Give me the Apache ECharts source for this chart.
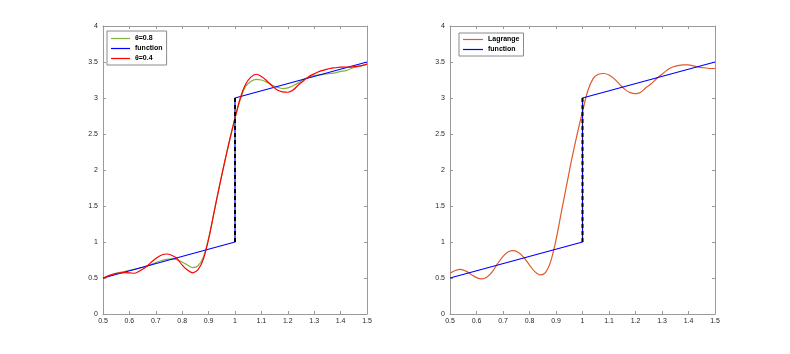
<!DOCTYPE html>
<html>
<head>
<meta charset="utf-8">
<script src="https://cdn.jsdelivr.net/npm/echarts@6/dist/echarts.min.js"></script>
<style>
html,body{margin:0;padding:0;background:#fff;}
#main{width:790px;height:354px;}
</style>
</head>
<body>
<div id="main"></div>
<script>
// sample positions
var xs = [0.50,0.52,0.54,0.56,0.58,0.60,0.62,0.64,0.66,0.68,0.70,0.72,0.74,0.76,0.78,0.80,0.82,0.84,0.86,0.88,0.90,0.92,0.94,0.96,0.98,1.00,1.02,1.04,1.06,1.08,1.10,1.12,1.14,1.16,1.18,1.20,1.22,1.24,1.26,1.28,1.30,1.32,1.34,1.36,1.38,1.40,1.42,1.44,1.46,1.48,1.50];
// left panel: theta = 0.8 (green)
var theta08 = [0.495,0.53,0.556,0.575,0.59,0.605,0.62,0.64,0.66,0.683,0.715,0.74,0.758,0.765,0.755,0.72,0.68,0.645,0.67,0.79,1.05,1.40,1.76,2.10,2.42,2.72,2.98,3.16,3.23,3.26,3.25,3.22,3.18,3.15,3.13,3.14,3.17,3.21,3.26,3.29,3.31,3.32,3.33,3.34,3.35,3.37,3.38,3.41,3.43,3.45,3.47];
// left panel: theta = 0.4 (red)
var theta04 = [0.495,0.53,0.556,0.568,0.574,0.572,0.566,0.60,0.645,0.71,0.77,0.815,0.833,0.815,0.77,0.68,0.61,0.572,0.615,0.76,1.04,1.40,1.76,2.10,2.42,2.72,3.00,3.19,3.29,3.33,3.30,3.24,3.17,3.11,3.085,3.08,3.11,3.18,3.24,3.30,3.335,3.37,3.39,3.41,3.42,3.43,3.43,3.43,3.44,3.45,3.47];
// right panel: Lagrange (orange)
var lagrange = [0.565,0.605,0.62,0.595,0.55,0.505,0.487,0.515,0.59,0.70,0.80,0.865,0.88,0.85,0.78,0.68,0.588,0.543,0.575,0.73,1.03,1.41,1.79,2.16,2.50,2.81,3.10,3.27,3.33,3.34,3.32,3.265,3.19,3.12,3.075,3.06,3.08,3.145,3.20,3.27,3.33,3.39,3.43,3.45,3.46,3.46,3.445,3.43,3.42,3.41,3.41];
// the exact function
var fnX = [0.5, 1.0, 1.0, 1.5];
var fnY = [0.5, 1.0, 3.0, 3.5];
// jump marker
var jumpX = [1.0, 1.0];
var jumpY = [1.0, 3.0];
// axis ranges / ticks
var xMin = 0.5, xMax = 1.5, xStep = 0.1;
var yMin = 0, yMax = 4, yStep = 0.5;

function pairs(a, b){ var r=[]; for (var i=0;i<a.length;i++) r.push([a[i], b[i]]); return r; }

var axisCol = '#9a9a9a';
var labelStyle = {color:'#262626', fontSize:7, fontFamily:'Liberation Sans, Arial, sans-serif'};
function xAx(g, pos, lab){
  return {type:'value', gridIndex:g, position:pos, min:xMin, max:xMax, interval:xStep,
    axisLine:{show:true, onZero:false, lineStyle:{color:axisCol, width:1}},
    axisTick:{show:true, inside:true, length:3, lineStyle:{color:axisCol}},
    axisLabel:{show:lab, margin:4, ...labelStyle},
    splitLine:{show:false}};
}
function yAx(g, pos, lab){
  return {type:'value', gridIndex:g, position:pos, min:yMin, max:yMax, interval:yStep,
    axisLine:{show:true, onZero:false, lineStyle:{color:axisCol, width:1}},
    axisTick:{show:true, inside:true, length:3, lineStyle:{color:axisCol}},
    axisLabel:{show:lab, margin:5, ...labelStyle},
    splitLine:{show:false}};
}
function line(name, data, color, xi, yi, w){
  return {name:name, type:'line', xAxisIndex:xi, yAxisIndex:yi, data:data, showSymbol:false, symbol:'none',
    smooth:0.3, lineStyle:{color:color, width:w||1.2}, itemStyle:{color:color}, animation:false, z:3};
}
function dashed(xi, yi){
  return {type:'line', xAxisIndex:xi, yAxisIndex:yi, data:pairs(jumpX, jumpY), showSymbol:false, symbol:'none',
    lineStyle:{color:'#000', width:2, type:[4,3]}, animation:false, z:4, silent:true};
}

var chart = echarts.init(document.getElementById('main'), null, {renderer:'canvas'});
var legendText = {color:'#000', fontSize:7, fontWeight:'bold', fontFamily:'Liberation Sans, Arial, sans-serif'};
chart.setOption({
  backgroundColor:'#fff',
  animation:false,
  grid:[
    {left:103, top:26, width:264, height:288},
    {left:450, top:26, width:265, height:288}
  ],
  xAxis:[xAx(0,'bottom',true), xAx(0,'top',false), xAx(1,'bottom',true), xAx(1,'top',false)],
  yAxis:[yAx(0,'left',true), yAx(0,'right',false), yAx(1,'left',true), yAx(1,'right',false)],
  legend:[
    {left:107, top:31, orient:'vertical', data:['θ=0.8','function','θ=0.4'], icon:'rect', itemWidth:19, itemHeight:1.2,
     itemGap:3, padding:[4,4,3,4], backgroundColor:'#fff', borderColor:'#8a8a8a', borderWidth:1, borderRadius:0,
     textStyle:legendText, selectedMode:false},
    {left:459, top:33, orient:'vertical', data:['Lagrange','function'], icon:'rect', itemWidth:20, itemHeight:1.2,
     itemGap:3, padding:[3,4,3,4], backgroundColor:'#fff', borderColor:'#8a8a8a', borderWidth:1, borderRadius:0,
     textStyle:legendText, selectedMode:false}
  ],
  series:[
    line('θ=0.8', pairs(xs, theta08), '#7fb43c', 0, 0),
    {name:'function', type:'line', xAxisIndex:0, yAxisIndex:0, data:pairs(fnX, fnY), showSymbol:false, symbol:'none',
      lineStyle:{color:'#0000ff', width:1.2}, itemStyle:{color:'#0000ff'}, animation:false, z:3},
    line('θ=0.4', pairs(xs, theta04), '#ff0000', 0, 0),
    dashed(0, 0),
    line('Lagrange', pairs(xs, lagrange), '#e05a2a', 2, 2),
    {name:'function', type:'line', xAxisIndex:2, yAxisIndex:2, data:pairs(fnX, fnY), showSymbol:false, symbol:'none',
      lineStyle:{color:'#0000ff', width:1.2}, itemStyle:{color:'#0000ff'}, animation:false, z:3},
    dashed(2, 2)
  ]
});
</script>
</body>
</html>
